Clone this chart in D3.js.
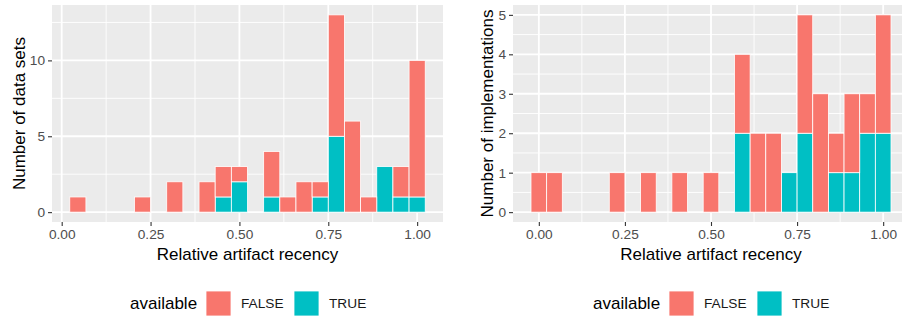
<!DOCTYPE html>
<html>
<head>
<meta charset="utf-8">
<script src="https://cdn.jsdelivr.net/npm/d3@7"></script>
<style>
  body { margin: 0; background: #fff; }
  svg text { font-family: "Liberation Sans", Arial, sans-serif; }
  .tick text { fill: #4d4d4d; font-size: 13.7px; }
  .tick line { stroke: #333; }
  .domain { display: none; }
</style>
</head>
<body>
<div id="graph"></div>
<script>
// histogram bins (ggplot bins = 23, centred at k / 22)
const binWidth = 1 / 22;
const groups = ["TRUE", "FALSE"];
const colors = { "FALSE": "#F8766D", "TRUE": "#00BFC4" };

// left: data sets
const dataSetBins  = [1, 5, 7, 9, 10, 11, 13, 14, 15, 16, 17, 18, 19, 20, 21, 22];
const dataSetFalse = [1, 1, 2, 2, 2, 1, 3, 1, 2, 1, 8, 6, 1, 0, 2, 9];
const dataSetTrue  = [0, 0, 0, 0, 1, 2, 1, 0, 0, 1, 5, 0, 0, 3, 1, 1];

// right: implementations
const implBins  = [0, 1, 5, 7, 9, 11, 13, 14, 15, 16, 17, 18, 19, 20, 21, 22];
const implFalse = [1, 1, 1, 1, 1, 1, 2, 2, 2, 0, 3, 3, 1, 2, 1, 3];
const implTrue  = [0, 0, 0, 0, 0, 0, 2, 0, 0, 1, 2, 0, 1, 1, 2, 2];

const xTicks = [0, 0.25, 0.5, 0.75, 1];
const xMinor = [0.125, 0.375, 0.625, 0.875];
const dataSetYTicks = [0, 5, 10];
const dataSetYMinor = [2.5, 7.5, 12.5];
const implYTicks = [0, 1, 2, 3, 4, 5];
const implYMinor = [0.5, 1.5, 2.5, 3.5, 4.5];

const W = 902, H = 318;
const svg = d3.select("#graph").append("svg")
  .attr("width", W).attr("height", H);

function drawPanel(opt) {
  const rows = opt.bins.map((k, i) => ({ x: k * binWidth, "FALSE": opt.falseVals[i], "TRUE": opt.trueVals[i] }));
  const stacked = d3.stack().keys(groups)(rows);

  const xMin = d3.min(rows, d => d.x) - binWidth / 2;
  const xMax = d3.max(rows, d => d.x) + binWidth / 2;
  const xPad = (xMax - xMin) * 0.05;
  const yMax = d3.max(rows, d => d.FALSE + d.TRUE);
  const yPad = yMax * 0.05;

  const x = d3.scaleLinear().domain([xMin - xPad, xMax + xPad]).range([opt.left, opt.right]);
  const y = d3.scaleLinear().domain([-yPad, yMax + yPad]).range([opt.bottom, opt.top]);

  const g = svg.append("g");
  g.append("rect")
    .attr("x", opt.left).attr("y", opt.top)
    .attr("width", opt.right - opt.left).attr("height", opt.bottom - opt.top)
    .attr("fill", "#EBEBEB");

  // grid
  g.selectAll(".vminor").data(xMinor).enter().append("line")
    .attr("x1", d => x(d)).attr("x2", d => x(d))
    .attr("y1", opt.top).attr("y2", opt.bottom)
    .attr("stroke", "#fff").attr("stroke-width", 0.9);
  g.selectAll(".hminor").data(opt.yMinor).enter().append("line")
    .attr("y1", d => y(d)).attr("y2", d => y(d))
    .attr("x1", opt.left).attr("x2", opt.right)
    .attr("stroke", "#fff").attr("stroke-width", 0.9);
  g.selectAll(".vmajor").data(xTicks).enter().append("line")
    .attr("x1", d => x(d)).attr("x2", d => x(d))
    .attr("y1", opt.top).attr("y2", opt.bottom)
    .attr("stroke", "#fff").attr("stroke-width", 1.8);
  g.selectAll(".hmajor").data(opt.yTicks).enter().append("line")
    .attr("y1", d => y(d)).attr("y2", d => y(d))
    .attr("x1", opt.left).attr("x2", opt.right)
    .attr("stroke", "#fff").attr("stroke-width", 1.8);

  // bars
  g.selectAll(".layer").data(stacked).enter().append("g")
    .attr("fill", d => colors[d.key])
    .selectAll("rect").data(d => d.filter(s => s[1] > s[0])).enter().append("rect")
    .attr("x", d => x(d.data.x - binWidth / 2))
    .attr("width", d => x(d.data.x + binWidth / 2) - x(d.data.x - binWidth / 2))
    .attr("y", d => y(d[1]))
    .attr("height", d => y(d[0]) - y(d[1]))
    .attr("stroke", "#fff").attr("stroke-width", 0.8);

  // axes
  g.append("g")
    .attr("transform", "translate(0," + opt.bottom + ")")
    .call(d3.axisBottom(x).tickValues(xTicks).tickFormat(d3.format(".2f")).tickSizeInner(4).tickPadding(3))
    .selectAll(".tick line").attr("stroke-width", 1.1);

  g.append("g")
    .attr("transform", "translate(" + opt.left + ",0)")
    .call(d3.axisLeft(y).tickValues(opt.yTicks).tickFormat(d3.format("d")).tickSizeInner(4).tickPadding(3))
    .selectAll(".tick line").attr("stroke-width", 1.1);

  g.append("text")
    .attr("x", (opt.left + opt.right) / 2)
    .attr("y", 260)
    .attr("text-anchor", "middle")
    .style("font-size", "17px")
    .text("Relative artifact recency");

  g.append("text")
    .attr("transform", "translate(" + opt.yTitleX + "," + (opt.top + opt.bottom) / 2 + ") rotate(-90)")
    .attr("text-anchor", "middle")
    .style("font-size", "17px")
    .text(opt.yTitle);

  // legend
  const lg = g.append("g").attr("transform", "translate(" + opt.legendX + ",0)");
  lg.append("text").attr("x", 0).attr("y", 309).style("font-size", "17px").text("available");
  const keys = ["FALSE", "TRUE"];
  const keyX = [76, 164];
  keys.forEach((k, i) => {
    lg.append("rect").attr("x", keyX[i]).attr("y", 291).attr("width", 25).attr("height", 25)
      .attr("fill", colors[k]).attr("stroke", "#fff").attr("stroke-width", 0.8);
    lg.append("text").attr("x", keyX[i] + 35).attr("y", 308)
      .style("font-size", "13.7px").attr("fill", "#1a1a1a").text(k);
  });
}

drawPanel({
  bins: dataSetBins, falseVals: dataSetFalse, trueVals: dataSetTrue,
  yTicks: dataSetYTicks, yMinor: dataSetYMinor,
  left: 52, right: 443, top: 5, bottom: 222,
  yTitle: "Number of data sets", yTitleX: 25, legendX: 130
});

drawPanel({
  bins: implBins, falseVals: implFalse, trueVals: implTrue,
  yTicks: implYTicks, yMinor: implYMinor,
  left: 513, right: 909, top: 5, bottom: 222,
  yTitle: "Number of implementations", yTitleX: 493, legendX: 593
});
</script>
</body>
</html>
